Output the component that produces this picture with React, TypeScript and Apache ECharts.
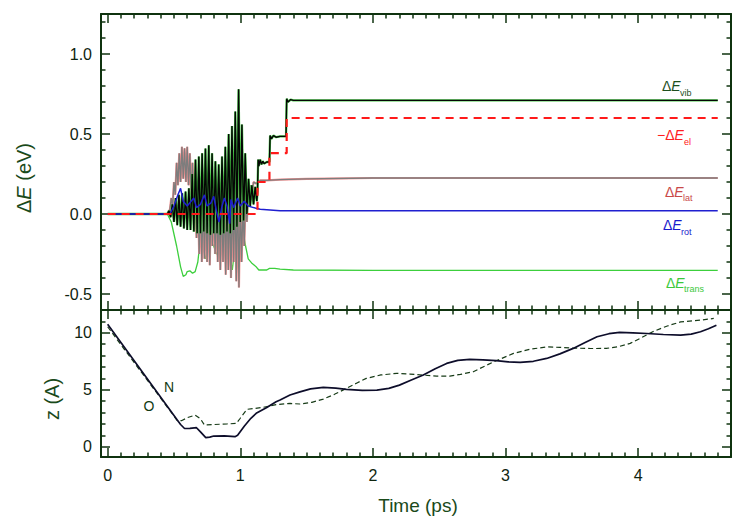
import React, { useEffect, useRef } from 'react';
import * as echarts from 'echarts';

// ---------- axis ranges & ticks ----------
const X_MIN = -0.05;
const X_MAX = 4.7;
const TIME_TICKS = [0, 1, 2, 3, 4];
const DE_MIN = -0.6;
const DE_MAX = 1.25;
const DE_TICKS = [-0.5, 0, 0.5, 1.0];
const Z_MIN = -0.9;
const Z_MAX = 12;
const Z_TICKS = [0, 5, 10];

// ---------- top panel: energy changes (t [ps], ΔE [eV]) ----------
const dEvib: [number, number][] = [
  [0, 0], [0.45, 0], [0.4625, 0.02], [0.475, -0.02], [0.4875, 0.06], [0.5, -0.05], [0.5125, 0.1], [0.525, -0.07],
  [0.5375, 0.12], [0.55, -0.08], [0.5625, 0.13], [0.575, -0.09], [0.5875, 0.14], [0.6, -0.1], [0.6125, 0.16],
  [0.625, -0.1], [0.6375, 0.25], [0.65, -0.11], [0.6625, 0.34], [0.675, -0.12], [0.6875, 0.36], [0.7, -0.12],
  [0.7125, 0.38], [0.725, -0.11], [0.7375, 0.41], [0.75, -0.12], [0.7625, 0.43], [0.775, -0.13], [0.7875, 0.38],
  [0.8, -0.12], [0.8125, 0.33], [0.825, -0.12], [0.8375, 0.31], [0.85, -0.13], [0.8625, 0.36], [0.875, -0.12],
  [0.8875, 0.42], [0.9, -0.11], [0.9125, 0.5], [0.925, -0.12], [0.9375, 0.55], [0.95, -0.1], [0.9625, 0.64],
  [0.975, -0.08], [0.9875, 0.78], [1.0, -0.05], [1.0125, 0.56], [1.025, -0.04], [1.0375, 0.38], [1.05, 0.0],
  [1.0625, 0.22], [1.075, 0.05], [1.0875, 0.18], [1.1, 0.06], [1.1125, 0.17], [1.125, 0.08], [1.13, 0.14],
  [1.135, 0.34], [1.14, 0.3], [1.15, 0.34], [1.16, 0.31], [1.17, 0.33], [1.18, 0.315], [1.2, 0.325],
  [1.22, 0.325], [1.225, 0.49], [1.235, 0.47], [1.25, 0.49], [1.27, 0.48], [1.3, 0.485], [1.345, 0.485],
  [1.35, 0.72], [1.36, 0.7], [1.38, 0.715], [1.4, 0.71], [4.6, 0.71],
];

const dEel: [number, number][] = [
  [0, 0], [1.13, 0], [1.13, 0.2], [1.22, 0.2], [1.22, 0.38], [1.35, 0.38], [1.35, 0.6], [4.6, 0.6],
];

const dElat: [number, number][] = [
  [0, 0], [0.45, 0], [0.47, 0.03], [0.48, 0.1], [0.49, 0.05], [0.5, 0.2], [0.51, 0.12], [0.52, 0.32], [0.53, 0.18],
  [0.54, 0.38], [0.55, 0.2], [0.56, 0.42], [0.57, 0.22], [0.58, 0.41], [0.59, 0.2], [0.6, 0.42], [0.61, 0.18],
  [0.62, 0.38], [0.63, 0.12], [0.64, 0.32], [0.65, 0.0], [0.66, 0.25], [0.67, -0.15], [0.68, 0.2], [0.69, -0.25],
  [0.7, 0.15], [0.71, -0.3], [0.72, 0.1], [0.73, -0.28], [0.74, 0.12], [0.75, -0.3], [0.76, 0.15], [0.77, -0.32],
  [0.78, 0.1], [0.79, -0.2], [0.8, 0.18], [0.81, -0.25], [0.82, 0.1], [0.83, -0.3], [0.84, 0.08], [0.85, -0.35],
  [0.86, 0.12], [0.87, -0.3], [0.88, 0.1], [0.89, -0.38], [0.9, 0.15], [0.91, -0.35], [0.92, 0.1], [0.93, -0.4],
  [0.94, 0.12], [0.95, -0.3], [0.96, 0.15], [0.97, -0.42], [0.98, 0.2], [0.99, -0.46], [1.0, 0.1], [1.01, -0.3],
  [1.02, 0.05], [1.03, -0.2], [1.04, 0.12], [1.05, -0.05], [1.06, 0.15], [1.07, 0.05], [1.08, 0.18], [1.09, 0.12],
  [1.1, 0.2], [1.12, 0.19], [1.15, 0.21], [1.2, 0.21], [1.3, 0.215], [1.5, 0.22], [2.0, 0.225], [4.6, 0.225],
];

const dErot: [number, number][] = [
  [0, 0], [0.47, 0], [0.5, 0.05], [0.53, 0.12], [0.55, 0.16], [0.57, 0.08], [0.6, 0.05], [0.62, 0.07], [0.65, 0.1],
  [0.67, 0.04], [0.7, 0.06], [0.73, 0.12], [0.75, 0.05], [0.78, 0.07], [0.8, 0.11], [0.82, 0.02], [0.84, -0.05],
  [0.86, 0.04], [0.88, 0.1], [0.9, 0.05], [0.92, -0.06], [0.93, 0.09], [0.95, 0.04], [0.98, 0.1], [1.0, 0.05],
  [1.03, 0.08], [1.06, 0.05], [1.1, 0.04], [1.15, 0.03], [1.3, 0.02], [4.6, 0.02],
];

const dEtrans: [number, number][] = [
  [0, 0], [0.45, 0], [0.48, -0.05], [0.52, -0.2], [0.55, -0.33], [0.57, -0.39], [0.59, -0.38], [0.6, -0.36],
  [0.62, -0.355], [0.64, -0.37], [0.66, -0.36], [0.68, -0.3], [0.7, -0.15], [0.72, -0.2], [0.74, -0.28],
  [0.76, -0.22], [0.78, -0.17], [0.8, -0.2], [0.82, -0.25], [0.84, -0.23], [0.86, -0.25], [0.88, -0.2],
  [0.9, -0.12], [0.92, -0.25], [0.94, -0.35], [0.96, -0.2], [0.98, -0.1], [1.0, -0.15], [1.02, -0.1],
  [1.04, -0.2], [1.06, -0.28], [1.09, -0.31], [1.12, -0.33], [1.14, -0.35], [1.2, -0.35], [1.22, -0.34],
  [1.26, -0.34], [1.3, -0.345], [1.4, -0.35], [2.0, -0.352], [4.6, -0.352],
];

// ---------- bottom panel: heights z (t [ps], z [A]) ----------
const zN: [number, number][] = [
  [0, 10.76], [0.525, 2.34], [0.55, 1.95], [0.58, 1.6], [0.62, 1.62], [0.67, 1.67], [0.7, 1.3], [0.74, 0.8],
  [0.77, 0.85], [0.8, 0.94], [0.88, 0.95], [0.96, 0.88], [0.98, 1.0], [1.03, 1.8], [1.08, 2.5], [1.12, 2.93],
  [1.2, 3.45], [1.27, 3.95], [1.3, 4.1], [1.375, 4.54], [1.45, 4.82], [1.53, 5.08], [1.626, 5.21], [1.72, 5.15],
  [1.8, 5.03], [1.92, 4.95], [2.03, 4.97], [2.12, 5.12], [2.2, 5.41], [2.29, 5.85], [2.38, 6.29], [2.47, 6.85],
  [2.556, 7.31], [2.64, 7.58], [2.73, 7.66], [2.83, 7.62], [2.93, 7.55], [3.02, 7.45], [3.11, 7.4], [3.21, 7.5],
  [3.31, 7.75], [3.41, 8.15], [3.51, 8.63], [3.6, 9.15], [3.69, 9.65], [3.78, 9.92], [3.86, 10.03], [3.96, 10.0],
  [4.065, 9.94], [4.19, 9.85], [4.32, 9.8], [4.4, 9.88], [4.47, 10.09], [4.53, 10.35], [4.59, 10.67],
];

const zO: [number, number][] = [
  [0, 10.53], [0.525, 2.3], [0.56, 2.3], [0.6, 2.55], [0.66, 2.78], [0.7, 2.45], [0.73, 1.9], [0.8, 1.95],
  [0.9, 2.0], [0.97, 2.05], [1.0, 2.5], [1.05, 3.28], [1.17, 3.45], [1.27, 3.7], [1.375, 3.8], [1.45, 3.75],
  [1.54, 3.9], [1.626, 4.18], [1.71, 4.6], [1.8, 5.12], [1.88, 5.6], [1.95, 6.0], [2.06, 6.3], [2.18, 6.44],
  [2.28, 6.38], [2.38, 6.29], [2.48, 6.2], [2.58, 6.2], [2.66, 6.35], [2.757, 6.58], [2.9, 7.4], [3.06, 8.19],
  [3.18, 8.55], [3.31, 8.76], [3.41, 8.72], [3.51, 8.66], [3.64, 8.62], [3.76, 8.63], [3.85, 8.78], [3.94, 9.07],
  [4.03, 9.6], [4.11, 10.09], [4.22, 10.6], [4.32, 10.96], [4.47, 11.11], [4.57, 11.26],
];

// ---------- styling ----------
const FONT = 'Liberation Sans, Arial, sans-serif';
const AXC = '#0f330f';
const LBL = '#0f240f';
const TITLE = '#1a4a1a';

function minorValues(min: number, max: number, step: number, majors: number[]) {
  const out: number[] = [];
  for (let k = Math.ceil(min / step - 1e-9); k * step <= max + 1e-9; k++) {
    const v = +(k * step).toFixed(4);
    if (!majors.some((m) => Math.abs(m - v) < 1e-6)) out.push(v);
  }
  return out;
}

const tickStyle = { color: AXC, width: 1.5 };

function axisPair(
  dim: 'x' | 'y',
  grid: number,
  pos: string,
  min: number,
  max: number,
  majors: number[],
  minorStep: number,
  labels: boolean,
  fmt: (v: number) => string,
) {
  const minors = minorValues(min, max, minorStep, majors);
  const base = { type: 'value', gridIndex: grid, position: pos, min, max, splitLine: { show: false } };
  return [
    {
      ...base,
      axisLine: { show: true, onZero: false, lineStyle: { color: AXC, width: 2 } },
      axisTick: { show: true, inside: true, length: 9, customValues: majors, lineStyle: tickStyle },
      axisLabel: labels
        ? {
            show: true,
            customValues: majors,
            margin: dim === 'x' ? 10 : 9,
            fontSize: 16,
            color: LBL,
            fontFamily: FONT,
            formatter: (v: number) => fmt(v),
          }
        : { show: false },
    },
    {
      ...base,
      axisLine: { show: false, onZero: false },
      axisTick: { show: true, inside: true, length: 4.5, customValues: minors, lineStyle: tickStyle },
      axisLabel: { show: false },
    },
  ];
}

const fmtX = (v: number) => String(Math.round(v));
const fmtDE = (v: number) => v.toFixed(1);
const fmtZ = (v: number) => String(Math.round(v));

function line(
  data: [number, number][],
  grid: number,
  color: string,
  width: number,
  type: any = 'solid',
  z = 2,
) {
  return {
    type: 'line',
    data,
    xAxisIndex: grid * 4,
    yAxisIndex: grid * 4,
    showSymbol: false,
    symbol: 'none',
    silent: true,
    z,
    lineStyle: { color, width, type },
  };
}

function curveLabel(main: string, sub: string, x: number, y: number, subX: number, color: string) {
  return {
    type: 'group',
    children: [
      {
        type: 'text',
        x,
        y,
        style: {
          text: main,
          fill: color,
          font: `14px ${FONT}`,
          verticalAlign: 'middle',
          align: 'left',
          rich: {
            n: { fontSize: 14, fontFamily: FONT, fill: color },
            i: { fontSize: 14, fontFamily: FONT, fontStyle: 'italic', fill: color },
          },
        },
      },
      {
        type: 'text',
        x: subX,
        y: y + 6.5,
        style: { text: sub, fill: color, font: `9px ${FONT}`, verticalAlign: 'middle', align: 'left' },
      },
    ],
  };
}

export default function App() {
  const ref = useRef<HTMLDivElement>(null);

  useEffect(() => {
    if (!ref.current) return;
    const chart = echarts.init(ref.current, undefined, { renderer: 'svg' });

    const option: any = {
      animation: false,
      backgroundColor: '#ffffff',
      grid: [
        { left: 101, right: 3, top: 14, height: 296 },
        { left: 101, right: 3, top: 310, height: 147 },
      ],
      xAxis: [
        ...axisPair('x', 0, 'bottom', X_MIN, X_MAX, TIME_TICKS, 0.1, false, fmtX),
        ...axisPair('x', 0, 'top', X_MIN, X_MAX, TIME_TICKS, 0.1, false, fmtX),
        ...axisPair('x', 1, 'bottom', X_MIN, X_MAX, TIME_TICKS, 0.1, true, fmtX),
        ...axisPair('x', 1, 'top', X_MIN, X_MAX, TIME_TICKS, 0.1, false, fmtX),
      ],
      yAxis: [
        ...axisPair('y', 0, 'left', DE_MIN, DE_MAX, DE_TICKS, 0.1, true, fmtDE),
        ...axisPair('y', 0, 'right', DE_MIN, DE_MAX, DE_TICKS, 0.1, false, fmtDE),
        ...axisPair('y', 1, 'left', Z_MIN, Z_MAX, Z_TICKS, 1, true, fmtZ),
        ...axisPair('y', 1, 'right', Z_MIN, Z_MAX, Z_TICKS, 1, false, fmtZ),
      ],
      series: [
        line(dEtrans, 0, '#3ccf3c', 1.3, 'solid', 2),
        line(dElat, 0, '#f29090', 2.2, 'solid', 3),
        line(dElat, 0, '#7d7d7d', 1.3, 'solid', 4),
        line(dEvib, 0, '#45c845', 2.3, 'solid', 5),
        line(dEvib, 0, '#050505', 1.4, 'solid', 6),
        line(dErot, 0, '#1f1fd0', 1.5, 'solid', 7),
        line(dEel, 0, '#ff1a1a', 2.2, [8, 6], 8),
        line(zO, 1, '#173b17', 1.2, [5, 3], 3),
        line(zN, 1, '#0d0d2a', 1.7, 'solid', 4),
      ],
      graphic: [
        {
          type: 'text',
          x: 24,
          y: 178,
          rotation: Math.PI / 2,
          style: {
            text: '{n|Δ}{i|E}{n| (eV)}',
            align: 'center',
            verticalAlign: 'middle',
            rich: {
              n: { fontSize: 20, fontFamily: FONT, fill: TITLE },
              i: { fontSize: 20, fontFamily: FONT, fontStyle: 'italic', fill: TITLE },
            },
          },
        },
        {
          type: 'text',
          x: 52,
          y: 399,
          rotation: Math.PI / 2,
          style: {
            text: 'z (A)',
            align: 'center',
            verticalAlign: 'middle',
            fill: TITLE,
            font: `20px ${FONT}`,
          },
        },
        {
          type: 'text',
          x: 418,
          y: 505,
          style: {
            text: 'Time (ps)',
            align: 'center',
            verticalAlign: 'middle',
            fill: TITLE,
            font: `19px ${FONT}`,
          },
        },
        curveLabel('{n|Δ}{i|E}', 'vib', 662, 86, 680, '#1e4f1e'),
        curveLabel('{n|−Δ}{i|E}', 'el', 657, 135, 684, '#ff2020'),
        curveLabel('{n|Δ}{i|E}', 'lat', 665, 191.5, 683, '#c94848'),
        curveLabel('{n|Δ}{i|E}', 'rot', 663, 225, 681, '#1a1acc'),
        curveLabel('{n|Δ}{i|E}', 'trans', 666, 282.5, 684, '#3cc83c'),
        {
          type: 'text',
          x: 169,
          y: 387,
          style: { text: 'N', align: 'center', verticalAlign: 'middle', fill: '#123a12', font: `14px ${FONT}` },
        },
        {
          type: 'text',
          x: 149,
          y: 406,
          style: { text: 'O', align: 'center', verticalAlign: 'middle', fill: '#123a12', font: `14px ${FONT}` },
        },
      ],
    };

    chart.setOption(option);
    return () => chart.dispose();
  }, []);

  return (
    <div
      ref={ref}
      style={{ position: 'fixed', left: 0, top: 0, width: 734, height: 523, background: '#fff' }}
    />
  );
}
